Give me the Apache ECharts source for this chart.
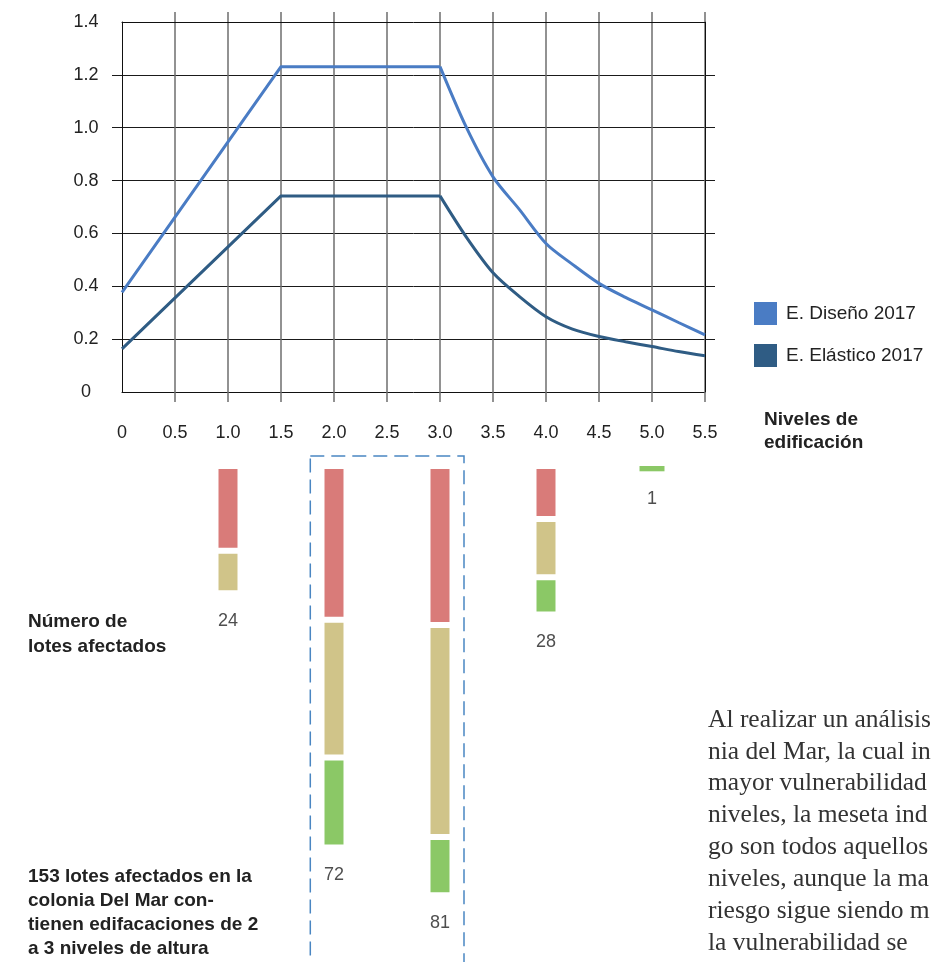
<!DOCTYPE html>
<html><head><meta charset="utf-8">
<script src="https://cdn.jsdelivr.net/npm/echarts@6/dist/echarts.min.js"></script>
<style>html,body{margin:0;padding:0;background:#fff}#c{width:932px;height:962px}</style>
</head><body><div id="c"></div>
<script>
// ---- data ----
const xTickValues = [0.5, 1.0, 1.5, 2.0, 2.5, 3.0, 3.5, 4.0, 4.5, 5.0, 5.5];
const yTickValues = [0.2, 0.4, 0.6, 0.8, 1.0, 1.2];
// rising branch + plateau (straight segments)
const rampX        = [0, 1.5, 3.0];
const designRampY  = [0.377, 1.231, 1.231];
const elasticRampY = [0.163, 0.742, 0.742];
// descending branch (smooth curve)
const tailX        = [3.0, 3.25, 3.5, 3.75, 4.0, 4.25, 4.5, 4.75, 5.0, 5.25, 5.5];
const designTailY  = [1.231, 1.0, 0.814, 0.69, 0.562, 0.483, 0.411, 0.358, 0.311, 0.263, 0.216];
const elasticTailY = [0.742, 0.585, 0.451, 0.361, 0.285, 0.238, 0.21, 0.19, 0.172, 0.153, 0.137];
const seriesNames = ['E. Diseño 2017', 'E. Elástico 2017'];
const levels  = ['1', '2', '3', '4', '5'];
const riskHigh   = [16, 29, 30, 10, 0];
const riskMedium = [8, 26, 40, 11, 0];
const riskLow    = [0, 17, 11, 7, 1];
const totals     = [24, 72, 81, 28, 1];
const axisTitle = 'Niveles de\nedificación';
const leftNote1 = 'Número de\nlotes afectados';
const leftNote2 = '153 lotes afectados en la\ncolonia Del Mar con-\ntienen edifacaciones de 2\na 3 niveles de altura';
const paragraph = ['Al realizar un análisis', 'nia del Mar, la cual in', 'mayor vulnerabilidad', 'niveles, la meseta ind', 'go son todos aquellos', 'niveles, aunque la ma', 'riesgo sigue siendo m', 'la vulnerabilidad se'];

const SANS = '"Liberation Sans", Arial, sans-serif';
const SERIF = '"Liberation Serif", "DejaVu Serif", serif';
const C_DESIGN = '#4a7cc4';
const C_ELASTIC = '#2f5c84';
const fmt = v => v === 0 ? '0' : v.toFixed(1);

const chart = echarts.init(document.getElementById('c'), null, {renderer: 'canvas'});
const pairs = (xs, ys) => xs.map((x, i) => [x, ys[i]]);

const vGrid = {color: '#6e6e6e', width: 1.5};
const hGrid = {color: '#1a1a1a', width: 1};

function lineSeries(name, color, data, smooth) {
  return {name, type: 'line', xAxisIndex: 0, yAxisIndex: 0, data, smooth,
    showSymbol: false, symbol: 'none', lineStyle: {color, width: 3}, itemStyle: {color}, z: 5};
}
// white separators between stacked segments; tiny / empty segments get none
function barSeries(name, color, values) {
  return {name, type: 'bar', xAxisIndex: 2, yAxisIndex: 2, stack: 'lotes', barWidth: 25,
    data: values.map(v => ({value: v, itemStyle: {borderWidth: v <= 1 ? 0 : 3}})),
    itemStyle: {color, borderColor: '#fff', borderWidth: 3}};
}

chart.setOption({
  animation: false,
  backgroundColor: '#fff',
  grid: [
    {left: 122, top: 22, width: 583, height: 370},
    {left: 175, top: 466, width: 530, height: 477}
  ],
  xAxis: [
    {type: 'value', gridIndex: 0, min: 0, max: 5.5, interval: 0.5, position: 'bottom',
     axisLine: {show: true, lineStyle: {color: '#111', width: 1}},
     axisTick: {show: true, inside: false, length: 10, customValues: xTickValues, lineStyle: vGrid},
     axisLabel: {show: true, margin: 32, formatter: fmt, fontSize: 18, color: '#222', fontFamily: SANS},
     splitLine: {show: true, lineStyle: vGrid}},
    {type: 'value', gridIndex: 0, min: 0, max: 5.5, interval: 0.5, position: 'top',
     axisLine: {show: true, onZero: false, lineStyle: {color: '#111', width: 1}},
     axisTick: {show: true, inside: false, length: 10, customValues: xTickValues, lineStyle: vGrid},
     axisLabel: {show: false}, splitLine: {show: false}},
    {type: 'category', gridIndex: 1, data: levels, boundaryGap: true, show: false}
  ],
  yAxis: [
    {type: 'value', gridIndex: 0, min: 0, max: 1.4, interval: 0.2, position: 'left',
     axisLine: {show: true, lineStyle: {color: '#111', width: 1}},
     axisTick: {show: true, inside: false, length: 10, customValues: yTickValues, lineStyle: hGrid},
     axisLabel: {show: true, margin: 36, align: 'center', formatter: fmt, fontSize: 18, color: '#222', fontFamily: SANS},
     splitLine: {show: true, lineStyle: hGrid}},
    {type: 'value', gridIndex: 0, min: 0, max: 1.4, interval: 0.2, position: 'right',
     axisLine: {show: true, onZero: false, lineStyle: {color: '#111', width: 1}},
     axisTick: {show: true, inside: false, length: 10, customValues: yTickValues, lineStyle: hGrid},
     axisLabel: {show: false}, splitLine: {show: false}},
    {type: 'value', gridIndex: 1, min: 0, max: 90, inverse: true, show: false}
  ],
  legend: {
    data: seriesNames, orient: 'vertical', left: 749, top: 297,
    itemWidth: 23, itemHeight: 23, itemGap: 19, icon: 'rect',
    textStyle: {fontSize: 19, color: '#222', fontFamily: SANS, padding: [0, 0, 0, 4]}
  },
  series: [
    lineSeries(seriesNames[0], C_DESIGN, pairs(rampX, designRampY), false),
    lineSeries(seriesNames[0], C_DESIGN, pairs(tailX, designTailY), 0.3),
    lineSeries(seriesNames[1], C_ELASTIC, pairs(rampX, elasticRampY), false),
    lineSeries(seriesNames[1], C_ELASTIC, pairs(tailX, elasticTailY), 0.3),
    barSeries('Riesgo alto', '#d97b79', riskHigh),
    barSeries('Riesgo medio', '#d0c489', riskMedium),
    barSeries('Riesgo bajo', '#8bc866', riskLow),
    {name: 'Total', type: 'scatter', xAxisIndex: 2, yAxisIndex: 2, data: totals,
     symbolSize: 1, itemStyle: {color: 'rgba(0,0,0,0)'},
     label: {show: true, position: 'bottom', distance: 18, formatter: p => String(p.value),
             fontSize: 18, color: '#222', fontFamily: SANS}}
  ],
  graphic: [
    {type: 'rect', z: 0, shape: {x: 310.3, y: 456, width: 153.7, height: 600},
     style: {fill: 'none', stroke: '#4a86c2', lineWidth: 1.5, lineDash: [14, 7]}},
    {type: 'text', x: 764, y: 408.3, style: {text: axisTitle, font: 'bold 19px ' + SANS, fill: '#222', lineHeight: 23.3, verticalAlign: 'top'}},
    {type: 'text', x: 28, y: 609.2, style: {text: leftNote1, font: 'bold 19px ' + SANS, fill: '#222', lineHeight: 25, verticalAlign: 'top'}},
    {type: 'text', x: 28, y: 864.7, style: {text: leftNote2, font: 'bold 19px ' + SANS, fill: '#222', lineHeight: 23.9, verticalAlign: 'top'}},
    {type: 'text', x: 708, y: 704, style: {text: paragraph.join('\n'), font: '25.5px ' + SERIF, fill: '#333', lineHeight: 31.9, verticalAlign: 'top'}}
  ]
});
</script></body></html>
